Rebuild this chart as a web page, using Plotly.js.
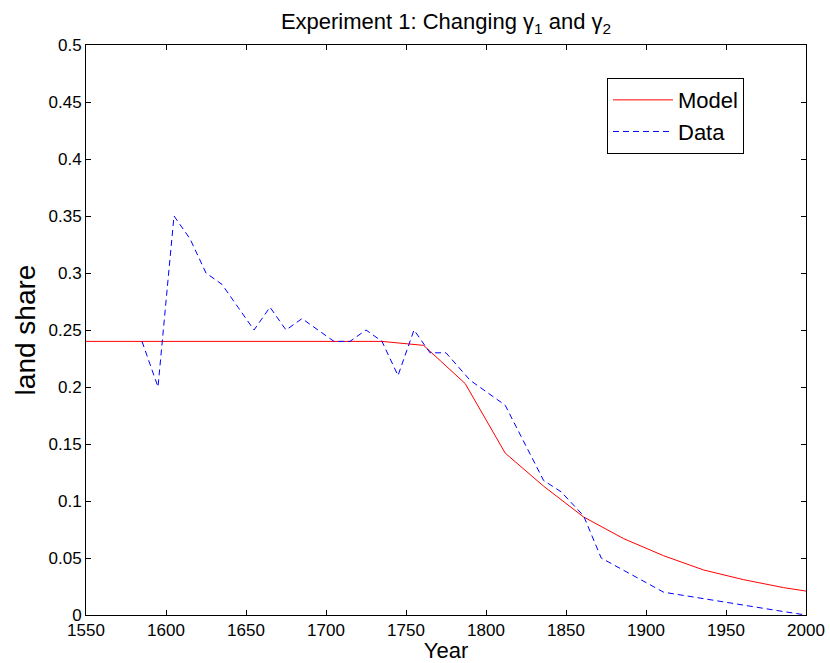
<!DOCTYPE html>
<html>
<head>
<meta charset="utf-8">
<script src="https://cdn.plot.ly/plotly-3.0.1.min.js"></script>
<style>html,body{margin:0;padding:0;background:#fff;}#chart{width:830px;height:663px;}</style>
</head>
<body>
<div id="chart"></div>
<script>
const modelYears = [1550, 1735, 1761, 1787, 1812, 1836, 1861, 1886, 1911, 1936, 1961, 1986, 2000];
const modelShare = [0.24, 0.24, 0.2365, 0.203, 0.142, 0.113, 0.086, 0.067, 0.052, 0.0395, 0.031, 0.024, 0.021];

const dataYears = [1585, 1595, 1605, 1615, 1625, 1635, 1645, 1655, 1665, 1675, 1685, 1695, 1705, 1715, 1725, 1735, 1745, 1755, 1765, 1775, 1790, 1812, 1836, 1847, 1861, 1872, 1911, 1986, 2000];
const dataShare = [0.24, 0.2, 0.35, 0.33, 0.30, 0.29, 0.27, 0.25, 0.27, 0.25, 0.26, 0.25, 0.24, 0.24, 0.25, 0.24, 0.21, 0.25, 0.23, 0.23, 0.206, 0.184, 0.118, 0.108, 0.087, 0.05, 0.02, 0.003, 0.0];

const xTicks = [1550, 1600, 1650, 1700, 1750, 1800, 1850, 1900, 1950, 2000];
const yTicks = [0, 0.05, 0.1, 0.15, 0.2, 0.25, 0.3, 0.35, 0.4, 0.45, 0.5];

const font = 'Arial, "Liberation Sans", sans-serif';

const traces = [
  {x: modelYears, y: modelShare, name: 'Model', type: 'scatter', mode: 'lines',
   line: {color: '#ff0000', width: 1}},
  {x: dataYears, y: dataShare, name: 'Data', type: 'scatter', mode: 'lines',
   line: {color: '#0000ff', width: 1, dash: '6px,4px'}}
];

const axisCommon = {
  showgrid: false, zeroline: false, showline: true, mirror: 'ticks',
  linecolor: '#000', linewidth: 1, ticks: 'inside', ticklen: 5, tickcolor: '#000',
  tickfont: {family: font, size: 17, color: '#000'}
};

const layout = {
  width: 830, height: 663,
  margin: {l: 86, r: 24, t: 45, b: 48},
  paper_bgcolor: '#fff', plot_bgcolor: '#fff',
  font: {family: font, color: '#000'},
  title: {text: 'Experiment 1: Changing γ<sub>1</sub> and γ<sub>2</sub>',
          font: {family: font, size: 22, color: '#000'},
          x: 0.5, xref: 'paper', xanchor: 'center',
          y: 0.968, yref: 'container', yanchor: 'middle'},
  xaxis: Object.assign({}, axisCommon, {
    range: [1550, 2000], tickvals: xTicks, ticktext: xTicks.map(String),
    title: {text: 'Year', font: {family: font, size: 22, color: '#000'}, standoff: 4}
  }),
  yaxis: Object.assign({}, axisCommon, {
    range: [0, 0.5], tickvals: yTicks, ticktext: yTicks.map(v => String(v)),
    title: {text: 'land share', font: {family: font, size: 28, color: '#000'}, standoff: 4}
  }),
  showlegend: true,
  legend: {x: 0.7236, y: 0.942, xanchor: 'left', yanchor: 'top',
           bordercolor: '#000', borderwidth: 1, bgcolor: '#fff',
           font: {family: font, size: 22, color: '#000'}, tracegroupgap: 0,
           itemwidth: 60, entrywidth: 150}
};

Plotly.newPlot('chart', traces, layout, {displayModeBar: false, staticPlot: true});
</script>
</body>
</html>
